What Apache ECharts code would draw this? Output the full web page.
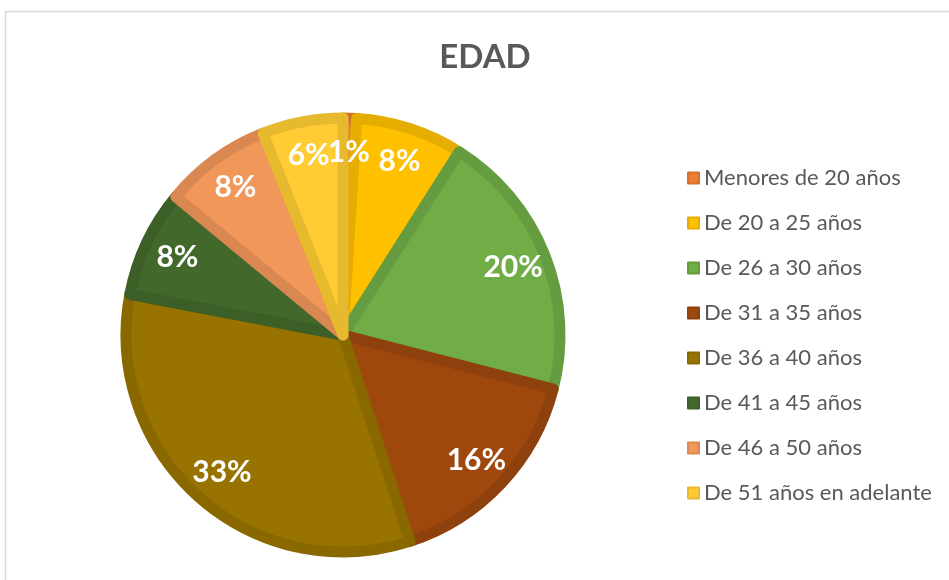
<!DOCTYPE html>
<html>
<head>
<meta charset="utf-8">
<script src="https://cdn.jsdelivr.net/npm/echarts@6/dist/echarts.min.js"></script>
<style>
  html, body { margin: 0; padding: 0; background: #fff; }
  #main { width: 949px; height: 580px; }
</style>
</head>
<body>
<div id="main"></div>
<script>
// EDAD - distribución por edad
var categories = ["Menores de 20 años", "De 20 a 25 años", "De 26 a 30 años", "De 31 a 35 años",
  "De 36 a 40 años", "De 41 a 45 años", "De 46 a 50 años", "De 51 años en adelante"];
var values = [1, 8, 20, 16, 33, 8, 8, 6];
var fillColors = ["#ed7d31", "#ffc000", "#70ad47", "#9e480e", "#997300", "#43682b", "#f1975a", "#ffcd33"];
var edgeColors = ["#d5702c", "#e5ad00", "#659c40", "#8e410d", "#8a6800", "#3c5e27", "#d98851", "#e6b92e"];

(function () {
  var myChart = echarts.init(document.getElementById("main"));

  var pieData = categories.map(function (name, i) {
    return {
      name: name,
      value: values[i],
      itemStyle: { color: fillColors[i], borderColor: edgeColors[i] }
    };
  });
  var labelData = categories.map(function (name, i) {
    return { name: name, value: values[i] };
  });

  var option = {
    color: edgeColors,
    title: {
      text: "EDAD",
      left: 480,
      top: 36,
      textAlign: "center",
      textStyle: {
        fontFamily: "Lato",
        fontSize: 33,
        fontWeight: "bold",
        color: "#595959"
      }
    },
    legend: {
      orient: "vertical",
      left: 682,
      top: 162,
      itemWidth: 11,
      itemHeight: 11,
      itemGap: 23,
      icon: "rect",
      data: categories,
      textStyle: {
        fontFamily: "Lato",
        fontSize: 22,
        color: "#595959"
      }
    },
    graphic: [
      {
        type: "rect",
        shape: { x: 5.5, y: 11.5, width: 1000, height: 1000 },
        style: { fill: "none", stroke: "#d9d9d9", lineWidth: 1.5 },
        silent: true
      }
    ],
    series: [
      {
        type: "pie",
        center: [343, 335],
        radius: [0, 217],
        startAngle: 90,
        clockwise: true,
        animation: false,
        label: { show: false },
        labelLine: { show: false },
        itemStyle: { borderWidth: 11, borderJoin: "round" },
        emphasis: { disabled: true },
        data: pieData
      },
      {
        type: "pie",
        center: [343, 335],
        radius: [142, 218],
        startAngle: 90,
        clockwise: true,
        animation: false,
        silent: true,
        avoidLabelOverlap: false,
        legendHoverLink: false,
        labelLayout: { hideOverlap: false },
        itemStyle: { color: "rgba(0,0,0,0)", borderWidth: 0 },
        label: {
          show: true,
          position: "inside",
          formatter: "{d}%",
          fontFamily: "Lato",
          fontSize: 30,
          fontWeight: "bold",
          color: "#fff"
        },
        labelLine: { show: false },
        data: labelData
      }
    ]
  };

  myChart.setOption(option);
})();
</script>
</body>
</html>
